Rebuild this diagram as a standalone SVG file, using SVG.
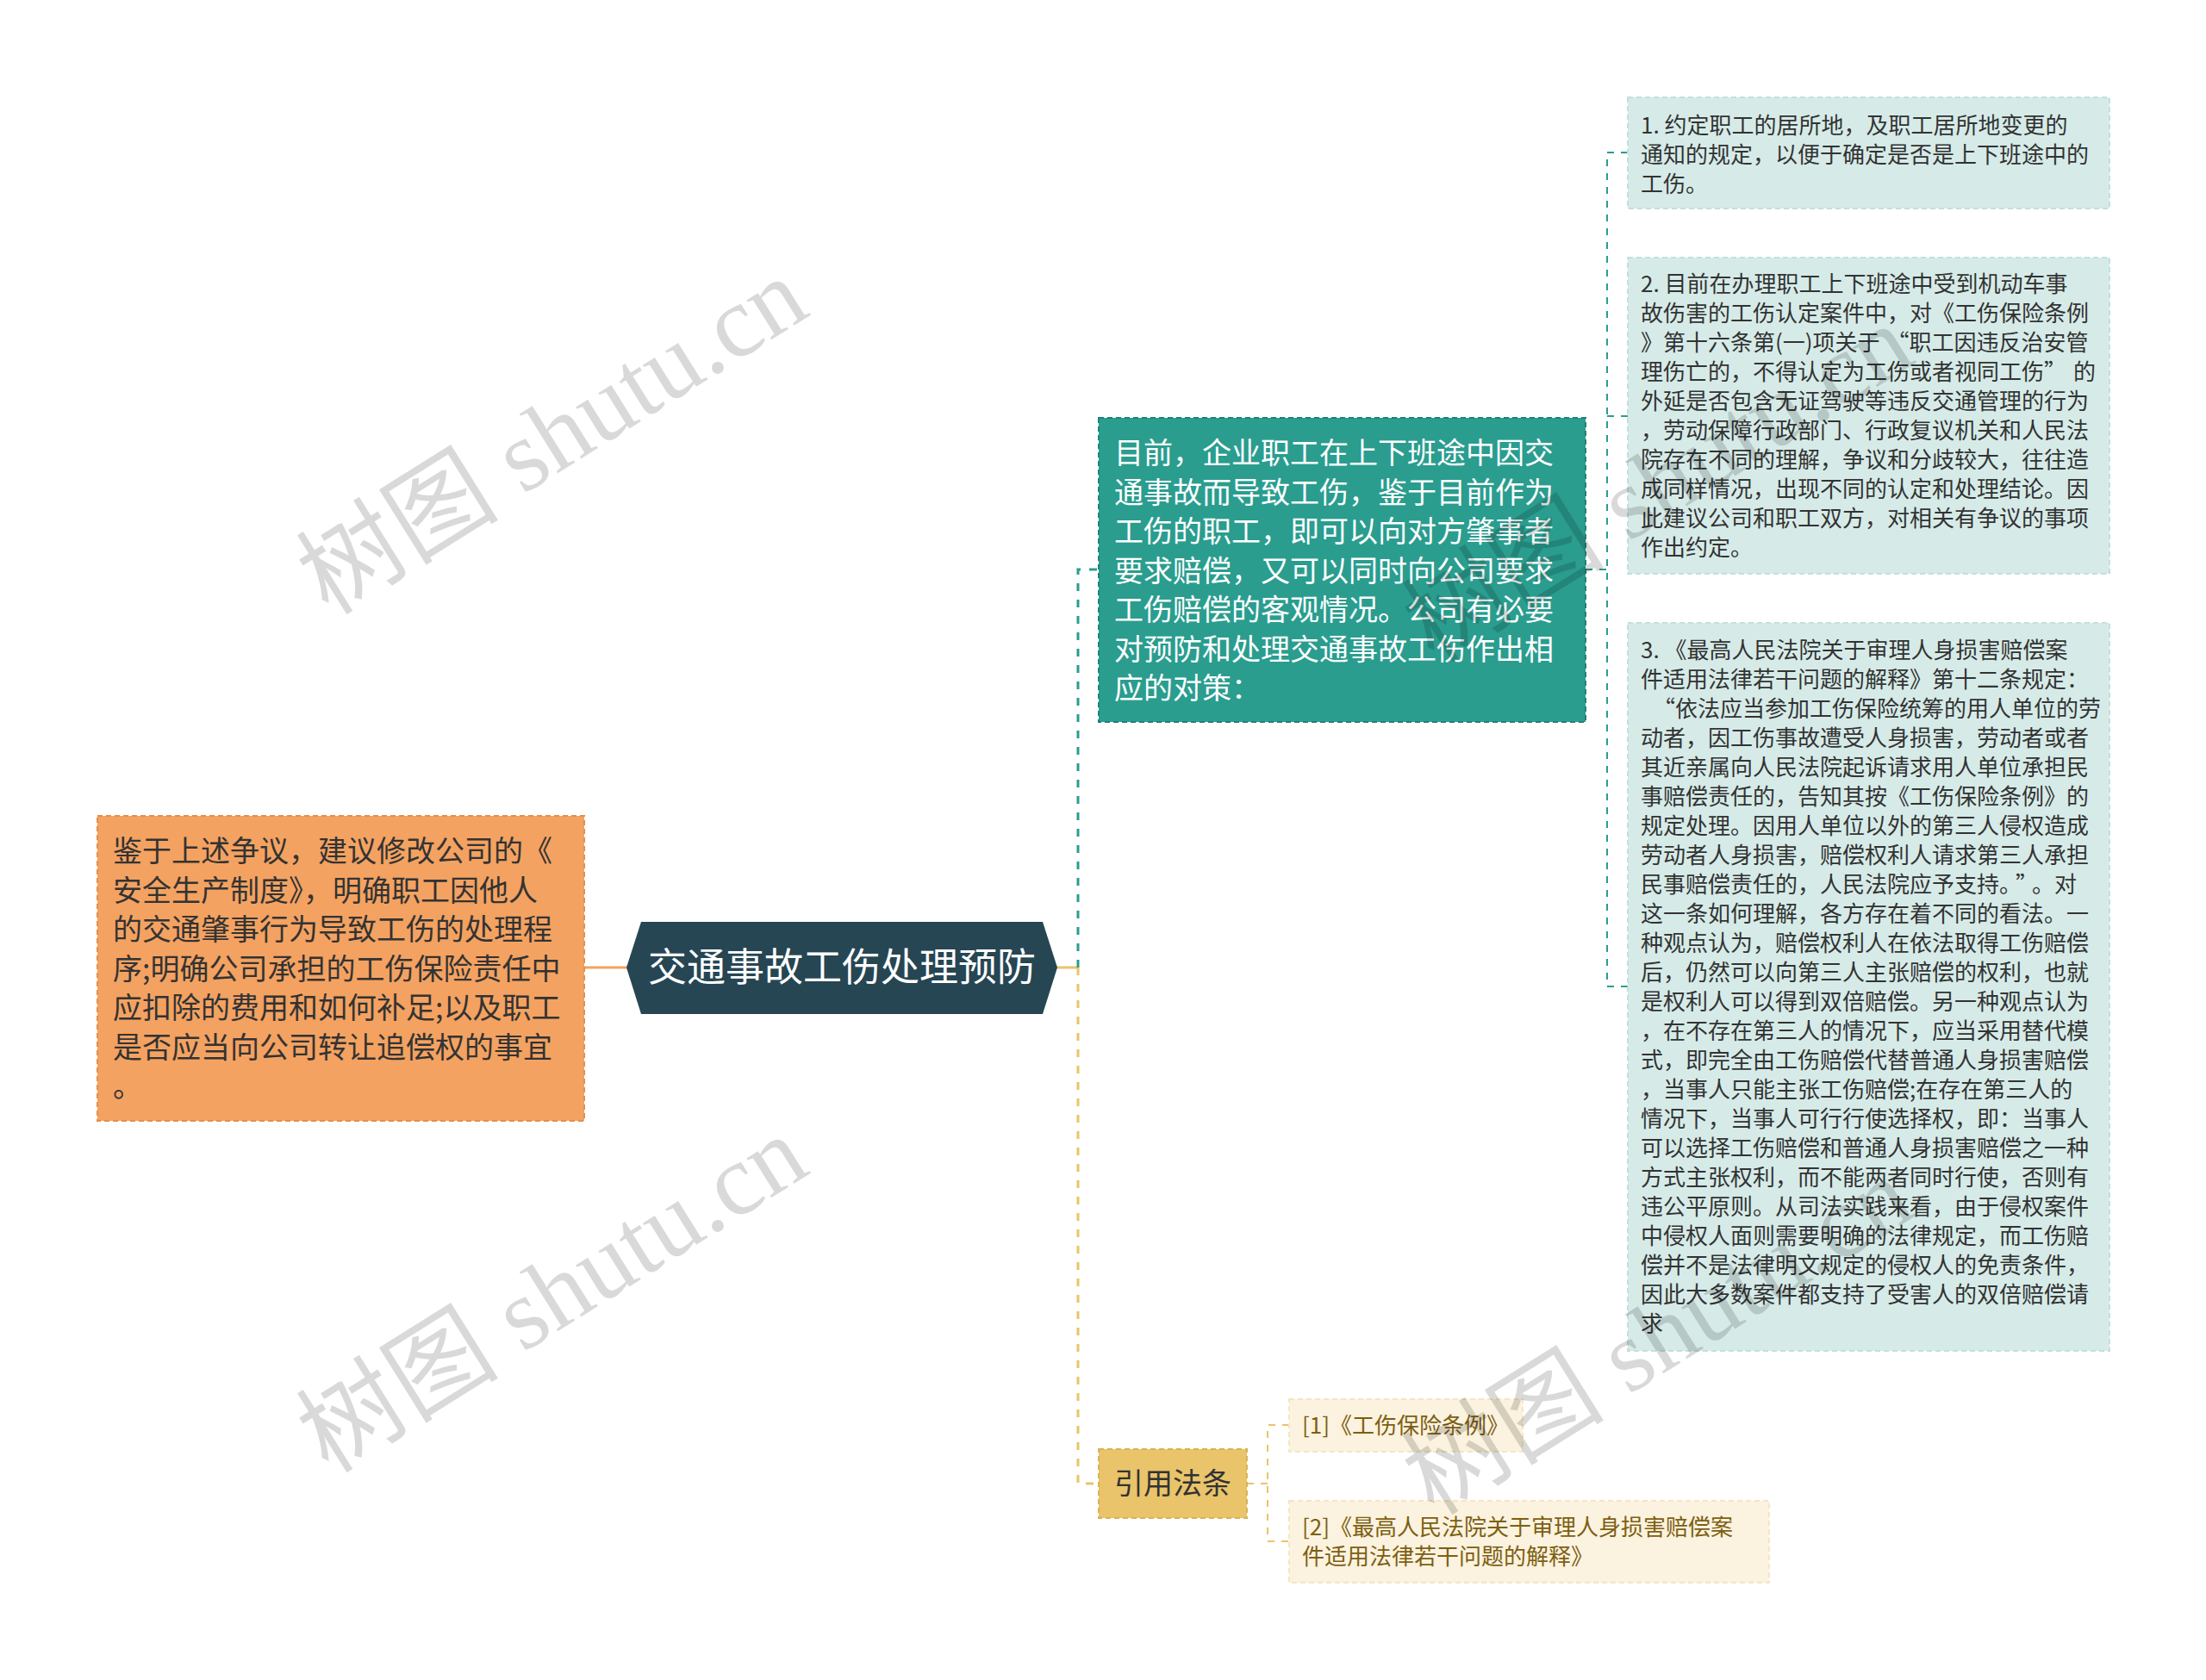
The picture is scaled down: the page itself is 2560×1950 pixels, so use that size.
<svg xmlns="http://www.w3.org/2000/svg" width="2560" height="1950" viewBox="0 0 2560 1950">
<style>
text{font-family:"Noto Sans CJK SC","Noto Sans",sans-serif;}
.lt{font-size:26px;fill:#333333;}
.big{font-size:34px;}
.wt{fill:#ffffff;}
.dk{fill:#333333;}
.ref{font-size:26px;fill:#7d5f12;}
.n-lt{fill:#d6ebe8;stroke:#c4dfdb;stroke-width:2;stroke-dasharray:6 4;}
.n-teal{fill:#2a9d8f;stroke:#1f8275;stroke-width:2;stroke-dasharray:6 4;}
.n-or{fill:#f4a261;stroke:#e08f4e;stroke-width:2;stroke-dasharray:6 4;}
.n-yl{fill:#e9c46a;stroke:#d9b255;stroke-width:2;stroke-dasharray:6 4;}
.n-ref{fill:#fbf2df;stroke:#f3e6c6;stroke-width:2;stroke-dasharray:6 4;}
.c-teal{fill:none;stroke:#2a9d8f;stroke-width:3;stroke-dasharray:9 10;}
.c-teal2{fill:none;stroke:#2a9d8f;stroke-width:2;stroke-dasharray:8 8;}
.c-yl{fill:none;stroke:#e9c46a;stroke-width:3;stroke-dasharray:9 10;}
.c-yl2{fill:none;stroke:#e9c46a;stroke-width:2;stroke-dasharray:8 8;}
.wm{font-family:"Liberation Serif","Noto Sans CJK SC",serif;font-size:118px;fill:#000000;fill-opacity:0.15;}
</style>
<rect x="0" y="0" width="2560" height="1950" fill="#ffffff"/>

<g id="connectors">
<line x1="678" y1="1123" x2="728" y2="1123" stroke="#f4a261" stroke-width="3"/>
<line x1="1226" y1="1123" x2="1251" y2="1123" stroke="#e9c46a" stroke-width="3"/>
<path class="c-teal" d="M1251,1123 L1251,661 L1275,661"/>
<path class="c-yl" d="M1251,1123 L1251,1722 L1275,1722"/>
<path class="c-teal2" d="M1840,661 L1865,661"/>
<path class="c-teal2" d="M1889,177 L1865,177 L1865,1145 L1889,1145"/>
<path class="c-teal2" d="M1865,483 L1889,483"/>
<path class="c-yl2" d="M1447,1722 L1471,1722"/>
<path class="c-yl2" d="M1496,1654 L1471,1654 L1471,1789 L1496,1789"/>
</g>

<g id="root">
<polygon points="727,1123 744,1070 1210,1070 1227,1123 1210,1177 744,1177" fill="#264653"/>
<text x="977" y="1139" text-anchor="middle" font-size="45" class="wt">交通事故工伤处理预防</text>
</g>

<g id="left-node">
<rect class="n-or" x="113" y="947" width="565" height="354"/>
<text class="big dk">
<tspan x="131" y="1000">鉴于上述争议，建议修改公司的《</tspan>
<tspan x="131" y="1045.5">安全生产制度》，明确职工因他人</tspan>
<tspan x="131" y="1091">的交通肇事行为导致工伤的处理程</tspan>
<tspan x="131" y="1136.5">序;明确公司承担的工伤保险责任中</tspan>
<tspan x="131" y="1182">应扣除的费用和如何补足;以及职工</tspan>
<tspan x="131" y="1227.5">是否应当向公司转让追偿权的事宜</tspan>
<tspan x="131" y="1273">。</tspan>
</text>
</g>

<g id="teal-node">
<rect class="n-teal" x="1275" y="485" width="565" height="353"/>
<text class="big wt">
<tspan x="1293" y="538">目前，企业职工在上下班途中因交</tspan>
<tspan x="1293" y="583.5">通事故而导致工伤，鉴于目前作为</tspan>
<tspan x="1293" y="629">工伤的职工，即可以向对方肇事者</tspan>
<tspan x="1293" y="674.5">要求赔偿，又可以同时向公司要求</tspan>
<tspan x="1293" y="720">工伤赔偿的客观情况。公司有必要</tspan>
<tspan x="1293" y="765.5">对预防和处理交通事故工伤作出相</tspan>
<tspan x="1293" y="811">应的对策：</tspan>
</text>
</g>

<g id="item-1">
<rect class="n-lt" x="1889" y="113" width="559" height="129"/>
<text class="lt">
<tspan x="1904" y="155">1. 约定职工的居所地，及职工居所地变更的</tspan>
<tspan x="1904" y="189">通知的规定，以便于确定是否是上下班途中的</tspan>
<tspan x="1904" y="223">工伤。</tspan>
</text>
</g>

<g id="item-2">
<rect class="n-lt" x="1889" y="299" width="559" height="367"/>
<text class="lt">
<tspan x="1904" y="339">2. 目前在办理职工上下班途中受到机动车事</tspan>
<tspan x="1904" y="373">故伤害的工伤认定案件中，对《工伤保险条例</tspan>
<tspan x="1904" y="407">》第十六条第(一)项关于<tspan dx="8">“</tspan>职工因违反治安管</tspan>
<tspan x="1904" y="441">理伤亡的，不得认定为工伤或者视同工伤”<tspan dx="8">的</tspan></tspan>
<tspan x="1904" y="475">外延是否包含无证驾驶等违反交通管理的行为</tspan>
<tspan x="1904" y="509">，劳动保障行政部门、行政复议机关和人民法</tspan>
<tspan x="1904" y="543">院存在不同的理解，争议和分歧较大，往往造</tspan>
<tspan x="1904" y="577">成同样情况，出现不同的认定和处理结论。因</tspan>
<tspan x="1904" y="611">此建议公司和职工双方，对相关有争议的事项</tspan>
<tspan x="1904" y="645">作出约定。</tspan>
</text>
</g>

<g id="item-3">
<rect class="n-lt" x="1889" y="723" width="559" height="845"/>
<text class="lt">
<tspan x="1904" y="764">3. 《最高人民法院关于审理人身损害赔偿案</tspan>
<tspan x="1904" y="798">件适用法律若干问题的解释》第十二条规定：</tspan>
<tspan x="1918" y="832">“依法应当参加工伤保险统筹的用人单位的劳</tspan>
<tspan x="1904" y="866">动者，因工伤事故遭受人身损害，劳动者或者</tspan>
<tspan x="1904" y="900">其近亲属向人民法院起诉请求用人单位承担民</tspan>
<tspan x="1904" y="934">事赔偿责任的，告知其按《工伤保险条例》的</tspan>
<tspan x="1904" y="968">规定处理。因用人单位以外的第三人侵权造成</tspan>
<tspan x="1904" y="1002">劳动者人身损害，赔偿权利人请求第三人承担</tspan>
<tspan x="1904" y="1036">民事赔偿责任的，人民法院应予支持。<tspan dx="6">”</tspan><tspan dx="6">。对</tspan></tspan>
<tspan x="1904" y="1070">这一条如何理解，各方存在着不同的看法。一</tspan>
<tspan x="1904" y="1104">种观点认为，赔偿权利人在依法取得工伤赔偿</tspan>
<tspan x="1904" y="1138">后，仍然可以向第三人主张赔偿的权利，也就</tspan>
<tspan x="1904" y="1172">是权利人可以得到双倍赔偿。另一种观点认为</tspan>
<tspan x="1904" y="1206">，在不存在第三人的情况下，应当采用替代模</tspan>
<tspan x="1904" y="1240">式，即完全由工伤赔偿代替普通人身损害赔偿</tspan>
<tspan x="1904" y="1274">，当事人只能主张工伤赔偿;在存在第三人的</tspan>
<tspan x="1904" y="1308">情况下，当事人可行行使选择权，即：当事人</tspan>
<tspan x="1904" y="1342">可以选择工伤赔偿和普通人身损害赔偿之一种</tspan>
<tspan x="1904" y="1376">方式主张权利，而不能两者同时行使，否则有</tspan>
<tspan x="1904" y="1410">违公平原则。从司法实践来看，由于侵权案件</tspan>
<tspan x="1904" y="1444">中侵权人面则需要明确的法律规定，而工伤赔</tspan>
<tspan x="1904" y="1478">偿并不是法律明文规定的侵权人的免责条件，</tspan>
<tspan x="1904" y="1512">因此大多数案件都支持了受害人的双倍赔偿请</tspan>
<tspan x="1904" y="1546">求</tspan>
</text>
</g>

<g id="cite-node">
<rect class="n-yl" x="1275" y="1682" width="172" height="80"/>
<text x="1293" y="1734" class="big dk">引用法条</text>
</g>

<g id="ref-1">
<rect class="n-ref" x="1496" y="1624" width="271" height="61"/>
<text x="1511" y="1664" class="ref">[1]《工伤保险条例》</text>
</g>

<g id="ref-2">
<rect class="n-ref" x="1496" y="1742" width="557" height="95"/>
<text class="ref">
<tspan x="1511" y="1782">[2]《最高人民法院关于审理人身损害赔偿案</tspan>
<tspan x="1511" y="1816">件适用法律若干问题的解释》</tspan>
</text>
</g>

<g id="watermarks">
<text class="wm" text-anchor="middle" transform="translate(662,540) rotate(-32)">树图 shutu.cn</text>
<text class="wm" text-anchor="middle" transform="translate(662,1536) rotate(-32)">树图 shutu.cn</text>
<text class="wm" text-anchor="middle" transform="translate(1945,595) rotate(-32)">树图 shutu.cn</text>
<text class="wm" text-anchor="middle" transform="translate(1945,1585) rotate(-32)">树图 shutu.cn</text>
</g>
</svg>
